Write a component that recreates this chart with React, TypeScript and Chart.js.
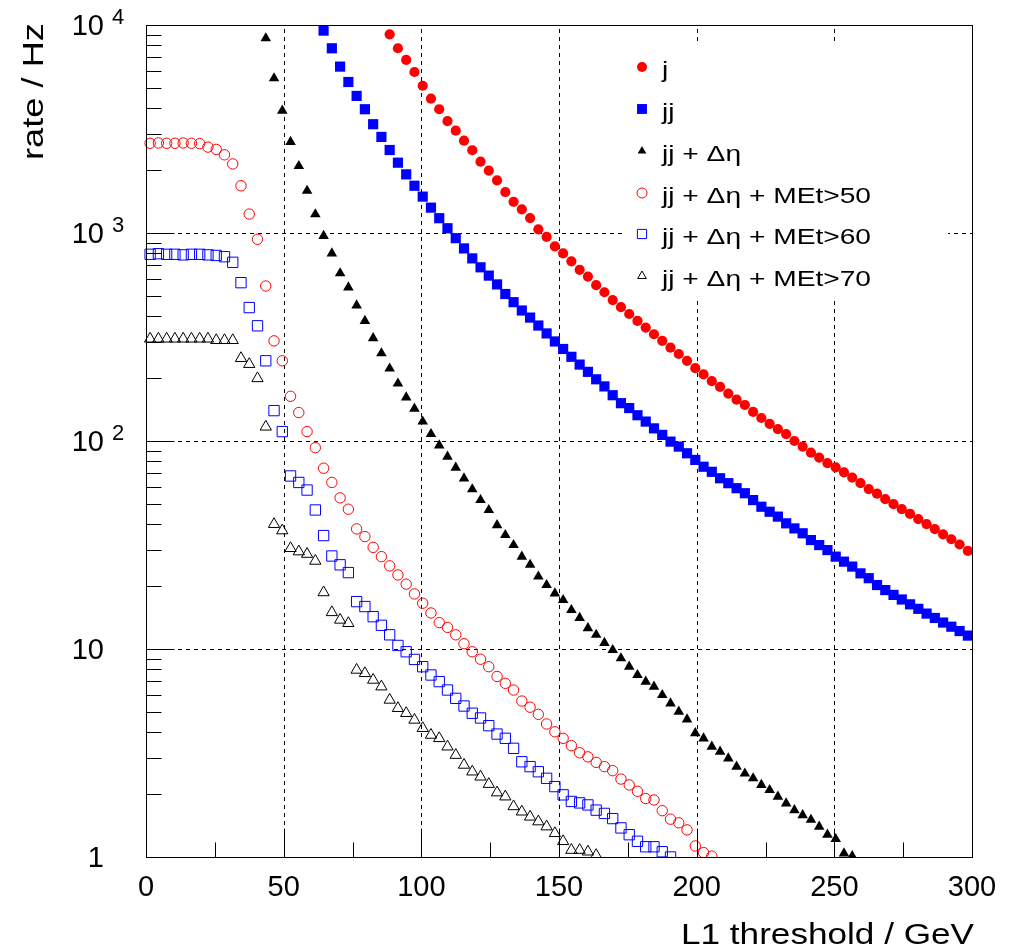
import React, { useEffect, useRef } from 'react';
import { Chart, registerables } from 'chart.js';

Chart.register(...registerables);

// L1 threshold bin centres (GeV)
const thresholds: number[] = [
  1.5, 4.5, 7.5, 10.5, 13.5, 16.5, 19.5, 22.5, 25.5, 28.5,
  31.5, 34.5, 37.5, 40.5, 43.5, 46.5, 49.5, 52.5, 55.5, 58.5,
  61.5, 64.5, 67.5, 70.5, 73.5, 76.5, 79.5, 82.5, 85.5, 88.5,
  91.5, 94.5, 97.5, 100.5, 103.5, 106.5, 109.5, 112.5, 115.5, 118.5,
  121.5, 124.5, 127.5, 130.5, 133.5, 136.5, 139.5, 142.5, 145.5, 148.5,
  151.5, 154.5, 157.5, 160.5, 163.5, 166.5, 169.5, 172.5, 175.5, 178.5,
  181.5, 184.5, 187.5, 190.5, 193.5, 196.5, 199.5, 202.5, 205.5, 208.5,
  211.5, 214.5, 217.5, 220.5, 223.5, 226.5, 229.5, 232.5, 235.5, 238.5,
  241.5, 244.5, 247.5, 250.5, 253.5, 256.5, 259.5, 262.5, 265.5, 268.5,
  271.5, 274.5, 277.5, 280.5, 283.5, 286.5, 289.5, 292.5, 295.5, 298.5,
];

// first threshold of each series
const startJ = 88.5;
const startJJ = 64.5;
const startJJDeta = 43.5;
const startMet50 = 1.5;
const startMet60 = 1.5;
const startMet70 = 1.5;

// rates (Hz)
const rateJ: number[] = [
  9020, 7730, 6790, 5943, 5105, 4426, 3936, 3451, 3105, 2780,
  2500, 2203, 1995, 1791, 1574, 1413, 1300, 1180, 1042, 957,
  863, 798, 731, 665, 617, 561, 519, 476, 440, 408,
  378, 351, 326, 303, 281, 262, 243, 224, 209, 194,
  182, 169, 158, 149, 138, 129, 121, 114, 108, 100,
  94.0, 87.9, 83.2, 78.2, 74.6, 70.6, 66.7, 62.7, 58.7, 55.8,
  52.5, 49.7, 47.0, 44.6, 42.1, 39.8, 37.7, 35.6, 33.7, 31.8,
  29.6,
];

const rateJJ: number[] = [
  9397, 7727, 6310, 5321, 4560, 3936, 3334, 2897, 2506, 2178,
  1914, 1687, 1496, 1324, 1178, 1054, 944, 843, 755, 684,
  624, 566, 509, 465, 424, 392, 359, 329, 301, 277,
  254, 233, 215, 198, 183, 166, 152, 144, 133, 124,
  115, 107, 99.3, 94.0, 87.3, 81.1, 75.2, 71.1, 66.2, 62.7,
  59.3, 56.1, 52.0, 48.3, 45.7, 43.3, 40.2, 38.0, 36.0, 33.4,
  31.6, 29.9, 27.8, 26.3, 24.9, 23.1, 21.9, 20.3, 19.2, 18.2,
  17.3, 16.4, 15.6, 14.8, 14.1, 13.4, 12.8, 12.2, 11.6,
];

const rateJJDeta: number[] = [
  8630, 5546, 3873, 2742, 2099, 1596, 1230, 968, 798, 640,
  548, 449, 378, 312, 264, 223, 189, 162, 143, 124,
  108, 95.3, 84.1, 74.5, 66.1, 58.6, 52.0, 46.6, 39.4, 35.3,
  31.6, 27.8, 25.4, 22.3, 20.3, 18.5, 17.2, 15.4, 14.1, 12.6,
  11.7, 10.7, 9.89, 9.02, 8.22, 7.50, 6.97, 6.59, 6.01, 5.48,
  5.00, 4.59, 3.94, 3.72, 3.39, 3.21, 2.98, 2.72, 2.52, 2.39,
  2.22, 2.10, 1.95, 1.81, 1.68, 1.59, 1.51, 1.40, 1.28, 1.22,
  1.04, 1.01,
];

const rateMet50: number[] = [
  2700, 2710, 2700, 2700, 2710, 2700, 2690, 2588, 2523, 2377,
  2148, 1687, 1233, 933, 556, 303, 243, 164, 137, 111,
  92.9, 74.0, 63.2, 53.3, 47.0, 37.8, 34.7, 30.8, 27.8, 25.1,
  22.7, 20.5, 18.4, 16.6, 14.9, 13.4, 12.7, 11.7, 10.6, 9.70,
  8.93, 8.22, 7.38, 6.84, 6.35, 5.62, 5.25, 4.85, 4.36, 4.00,
  3.72, 3.43, 3.17, 3.03, 2.85, 2.72, 2.60, 2.37, 2.22, 2.07,
  1.91, 1.88, 1.67, 1.52, 1.46, 1.35, 1.13, 1.05, 1.01,
];

const rateMet60: number[] = [
  790, 795, 790, 790, 785, 790, 790, 785, 780, 769,
  723, 577, 438, 358, 243, 140, 111, 67.9, 63.2, 58.1,
  46.6, 35.1, 28.0, 25.4, 23.3, 16.9, 16.0, 14.3, 13.0, 11.7,
  10.4, 9.70, 8.91, 8.22, 7.50, 6.97, 6.35, 5.79, 5.32, 4.91,
  4.66, 4.28, 3.90, 3.72, 3.33, 2.87, 2.72, 2.57, 2.39, 2.18,
  1.99, 1.85, 1.82, 1.78, 1.68, 1.62, 1.53, 1.38, 1.28, 1.19,
  1.12, 1.12, 1.06, 1.00,
];

const rateMet70: number[] = [
  310, 310, 310, 310, 310, 310, 310, 310, 305, 305,
  305, 250, 234, 200, 117, 39.8, 37.1, 30.5, 29.4, 28.6,
  26.5, 18.7, 15.0, 13.8, 13.3, 7.93, 7.64, 7.10, 6.59, 5.69,
  5.19, 4.91, 4.56, 4.16, 3.86, 3.72, 3.39, 3.09, 2.77, 2.57,
  2.43, 2.24, 2.04, 1.95, 1.75, 1.65, 1.56, 1.48, 1.40, 1.30,
  1.19, 1.08, 1.08, 1.06, 1.02,
];

const seriesLabels = [
  'j',
  'jj',
  'jj + Δη',
  'jj + Δη + MEt>50',
  'jj + Δη + MEt>60',
  'jj + Δη + MEt>70',
];

const xTickLabels = ['0', '50', '100', '150', '200', '250', '300'];
const xMajorTicks = [0, 50, 100, 150, 200, 250, 300];
const xMinorTicks = [25, 75, 125, 175, 225, 275];
const xGridLines = [50, 100, 150, 200, 250];
const yDecades = [1, 10, 100, 1000, 10000];
const yDecadeBase = ['1', '10', '10', '10', '10'];
const yDecadeExp = ['', '', '2', '3', '4'];
const yGridLines = [10, 100, 1000];

const xTitle = 'L1 threshold / GeV';
const yTitle = 'rate / Hz';

const FONT = "'Liberation Sans', Arial, Helvetica, sans-serif";

function toPoints(start: number, values: number[]) {
  const i0 = thresholds.indexOf(start);
  return values.map((v, i) => ({ x: thresholds[i0 + i], y: v }));
}

type Marker = {
  style: 'circle' | 'rect' | 'triangle';
  color: string;
  filled: boolean;
  radius: number;
  legendRadius: number;
};

const markers: Marker[] = [
  { style: 'circle', color: '#ff0000', filled: true, radius: 5.1, legendRadius: 5 },
  { style: 'rect', color: '#0000ff', filled: true, radius: 7.2, legendRadius: 7 },
  { style: 'triangle', color: '#000000', filled: true, radius: 6.1, legendRadius: 5 },
  { style: 'circle', color: '#ff0000', filled: false, radius: 5.2, legendRadius: 5 },
  { style: 'rect', color: '#0000ff', filled: false, radius: 7.3, legendRadius: 6.5 },
  { style: 'triangle', color: '#000000', filled: false, radius: 6.5, legendRadius: 5 },
];

function drawMarker(ctx: CanvasRenderingContext2D, m: Marker, x: number, y: number, r: number) {
  ctx.save();
  ctx.beginPath();
  if (m.style === 'circle') {
    ctx.arc(x, y, r, 0, Math.PI * 2);
  } else if (m.style === 'rect') {
    const s = Math.SQRT1_2 * r;
    ctx.rect(x - s, y - s, 2 * s, 2 * s);
  } else {
    let a = 0;
    ctx.moveTo(x + Math.sin(a) * r, y - Math.cos(a) * r);
    a += (2 * Math.PI) / 3;
    ctx.lineTo(x + Math.sin(a) * r, y - Math.cos(a) * r);
    a += (2 * Math.PI) / 3;
    ctx.lineTo(x + Math.sin(a) * r, y - Math.cos(a) * r);
    ctx.closePath();
  }
  if (m.filled) {
    ctx.fillStyle = m.color;
    ctx.fill();
  } else {
    ctx.strokeStyle = m.color;
    ctx.lineWidth = 1;
    ctx.stroke();
  }
  ctx.restore();
}

function drawText(
  ctx: CanvasRenderingContext2D,
  s: string,
  x: number,
  y: number,
  size: number,
  align: CanvasTextAlign,
  targetWidth?: number,
  rotate = 0,
) {
  ctx.save();
  ctx.font = `${size}px ${FONT}`;
  ctx.fillStyle = '#000';
  ctx.textBaseline = 'alphabetic';
  ctx.textAlign = align;
  ctx.translate(x, y);
  if (rotate) ctx.rotate(rotate);
  if (targetWidth) {
    const w = ctx.measureText(s).width;
    ctx.scale(targetWidth / w, 1);
  }
  ctx.fillText(s, 0, 0);
  ctx.restore();
}

const rootStyle = {
  id: 'rootStyle',
  beforeDatasetsDraw(chart: any) {
    const { ctx, chartArea: a, scales } = chart;
    const xs = scales.x;
    const ys = scales.y;
    ctx.save();
    ctx.strokeStyle = '#000';
    ctx.lineWidth = 1;
    ctx.setLineDash([4, 4]);
    for (const v of xGridLines) {
      const px = Math.round(xs.getPixelForValue(v)) + 0.5;
      ctx.beginPath();
      ctx.moveTo(px, a.bottom);
      ctx.lineTo(px, a.top);
      ctx.stroke();
    }
    for (const v of yGridLines) {
      const py = Math.round(ys.getPixelForValue(v)) + 0.5;
      ctx.beginPath();
      ctx.moveTo(a.left, py);
      ctx.lineTo(a.right, py);
      ctx.stroke();
    }
    ctx.restore();
    // legend box (white, borderless) hides the grid behind the legend
    ctx.save();
    ctx.fillStyle = '#ffffff';
    ctx.fillRect(623, 43, 325, 258);
    ctx.restore();
  },
  afterDatasetsDraw(chart: any) {
    const { ctx, chartArea: a, scales } = chart;
    const xs = scales.x;
    const ys = scales.y;
    ctx.save();
    ctx.strokeStyle = '#000';
    ctx.lineWidth = 1;
    ctx.setLineDash([]);
    // frame
    ctx.strokeRect(Math.round(a.left) + 0.5, Math.round(a.top) + 0.5,
      Math.round(a.right - a.left), Math.round(a.bottom - a.top));
    // x ticks
    const bottom = Math.round(a.bottom) + 0.5;
    for (const v of xMajorTicks) {
      const px = Math.round(xs.getPixelForValue(v)) + 0.5;
      ctx.beginPath();
      ctx.moveTo(px, bottom);
      ctx.lineTo(px, bottom - 29);
      ctx.stroke();
    }
    for (const v of xMinorTicks) {
      const px = Math.round(xs.getPixelForValue(v)) + 0.5;
      ctx.beginPath();
      ctx.moveTo(px, bottom);
      ctx.lineTo(px, bottom - 15);
      ctx.stroke();
    }
    // y ticks
    const left = Math.round(a.left) + 0.5;
    for (const d of yDecades) {
      const py = Math.round(ys.getPixelForValue(d)) + 0.5;
      ctx.beginPath();
      ctx.moveTo(left, py);
      ctx.lineTo(left + 28, py);
      ctx.stroke();
      if (d < 10000) {
        for (let k = 2; k <= 9; k++) {
          const pm = Math.round(ys.getPixelForValue(d * k)) + 0.5;
          ctx.beginPath();
          ctx.moveTo(left, pm);
          ctx.lineTo(left + 15, pm);
          ctx.stroke();
        }
      }
    }
    ctx.restore();

    // x tick labels
    xMajorTicks.forEach((v, i) => {
      drawText(ctx, xTickLabels[i], xs.getPixelForValue(v), 896, 29, 'center');
    });
    // y tick labels
    yDecades.forEach((d, i) => {
      const py = ys.getPixelForValue(d);
      drawText(ctx, yDecadeBase[i], 104, py + 10.4, 29, 'right');
      if (yDecadeExp[i]) drawText(ctx, yDecadeExp[i], 112, py - 1, 22, 'left');
    });
    // titles
    drawText(ctx, xTitle, 974, 944, 29, 'right', 293);
    drawText(ctx, yTitle, 43, 23, 29, 'right', 137, -Math.PI / 2);

    // legend
    const rowY = [67, 109, 151, 193, 234, 276];
    seriesLabels.forEach((lab, i) => {
      drawMarker(ctx, markers[i], 642, rowY[i], markers[i].legendRadius);
    });
    ctx.save();
    ctx.font = `22px ${FONT}`;
    const sx = 209 / ctx.measureText(seriesLabels[3]).width;
    ctx.restore();
    seriesLabels.forEach((lab, i) => {
      ctx.save();
      ctx.font = `22px ${FONT}`;
      ctx.fillStyle = '#000';
      ctx.textAlign = 'left';
      ctx.textBaseline = 'alphabetic';
      ctx.translate(662, rowY[i] + 10);
      ctx.scale(sx, 1);
      ctx.fillText(lab, 0, 0);
      ctx.restore();
    });
  },
};

export default function App() {
  const ref = useRef<HTMLCanvasElement | null>(null);
  useEffect(() => {
    if (!ref.current) return;
    const all = [
      toPoints(startJ, rateJ),
      toPoints(startJJ, rateJJ),
      toPoints(startJJDeta, rateJJDeta),
      toPoints(startMet50, rateMet50),
      toPoints(startMet60, rateMet60),
      toPoints(startMet70, rateMet70),
    ];
    const chart = new Chart(ref.current, {
      type: 'scatter',
      data: {
        datasets: all.map((pts, i) => {
          const m = markers[i];
          return {
            label: seriesLabels[i],
            data: pts,
            showLine: false,
            order: 6 - i,
            pointStyle: m.style,
            pointRadius: m.radius,
            pointHoverRadius: m.radius,
            pointBackgroundColor: m.filled ? m.color : 'rgba(0,0,0,0)',
            pointBorderColor: m.color,
            pointBorderWidth: m.filled ? 0 : 1,
            clip: { left: 10, right: 10, top: 10, bottom: 0 },
          } as any;
        }),
      },
      options: {
        animation: false,
        responsive: false,
        maintainAspectRatio: false,
        events: [],
        layout: { padding: { left: 146, top: 25, right: 39, bottom: 93 } },
        plugins: {
          legend: { display: false },
          tooltip: { enabled: false },
        },
        scales: {
          x: { type: 'linear', min: 0, max: 300, display: false },
          y: { type: 'logarithmic', min: 1, max: 10000, display: false },
        },
      },
      plugins: [rootStyle],
    });
    return () => chart.destroy();
  }, []);

  return (
    <div style={{ position: 'absolute', left: 0, top: 0, width: 1011, height: 950, background: '#fff' }}>
      <canvas ref={ref} width={1011} height={950} style={{ display: 'block', width: 1011, height: 950 }} />
    </div>
  );
}
